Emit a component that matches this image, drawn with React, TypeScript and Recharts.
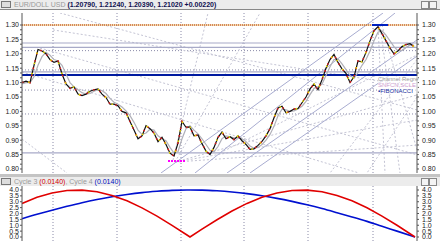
import React from 'react';
import { LineChart, Line, XAxis, YAxis, ReferenceLine } from 'recharts';

// time index (one unit per chart column)
const priceValues = [
  1.10, 1.105, 1.10, 1.16, 1.215, 1.21, 1.20, 1.18, 1.17, 1.175,
  1.13, 1.095, 1.08, 1.085, 1.06, 1.055, 1.06, 1.07, 1.075, 1.078,
  1.06, 1.048, 1.025, 1.025, 1.02, 1.0, 0.995, 0.965, 0.935, 0.905,
  0.915, 0.95, 0.94, 0.925, 0.895, 0.91, 0.885, 0.855, 0.845, 0.89,
  0.965, 0.945, 0.945, 0.915, 0.918, 0.888, 0.862, 0.85, 0.875, 0.91,
  0.928, 0.905, 0.912, 0.902, 0.915, 0.898, 0.885, 0.868, 0.87, 0.882,
  0.896, 0.915, 0.94, 0.978, 1.012, 1.018, 0.995, 1.0, 1.008, 1.01,
  1.03, 1.05, 1.078, 1.095, 1.075, 1.11, 1.15, 1.18, 1.198, 1.17,
  1.148, 1.132, 1.10, 1.12, 1.175, 1.172, 1.205, 1.245, 1.28, 1.294,
  1.27, 1.245, 1.22, 1.20, 1.21, 1.225, 1.232, 1.235, 1.225,
];
const maValues = [
  1.095, 1.10, 1.10, 1.12, 1.16, 1.19, 1.205, 1.195, 1.18, 1.175,
  1.16, 1.13, 1.10, 1.085, 1.075, 1.065, 1.06, 1.062, 1.07, 1.075,
  1.072, 1.062, 1.045, 1.032, 1.025, 1.015, 1.002, 0.985, 0.962, 0.935,
  0.92, 0.925, 0.938, 0.935, 0.915, 0.905, 0.898, 0.875, 0.855, 0.86,
  0.905, 0.94, 0.95, 0.935, 0.922, 0.905, 0.885, 0.865, 0.86, 0.878,
  0.905, 0.915, 0.912, 0.908, 0.908, 0.905, 0.895, 0.88, 0.872, 0.875,
  0.885, 0.90, 0.92, 0.948, 0.985, 1.008, 1.005, 1.0, 1.002, 1.008,
  1.018, 1.035, 1.058, 1.08, 1.085, 1.095, 1.125, 1.155, 1.18, 1.182,
  1.165, 1.145, 1.125, 1.115, 1.135, 1.16, 1.18, 1.21, 1.245, 1.275,
  1.28, 1.265, 1.245, 1.225, 1.21, 1.212, 1.222, 1.23, 1.23,
];
const PRICE_STEP = 4;

const cycleT = [0, 15, 30, 45, 60, 75, 90, 105, 120, 135, 150, 165, 168, 180, 195, 210, 225, 240, 255, 270, 285, 300, 315, 330, 345, 360, 375, 393];
const cycle3 = [2.86, 3.38, 3.75, 3.96, 3.99, 3.85, 3.54, 3.08, 2.48, 1.78, 0.99, 0.17, 0.0, 0.67, 1.47, 2.21, 2.86, 3.38, 3.75, 3.96, 3.99, 3.85, 3.54, 3.08, 2.49, 1.78, 1.0, 0.0];
const cycle4 = [1.55, 1.93, 2.28, 2.61, 2.92, 3.19, 3.42, 3.62, 3.78, 3.89, 3.97, 4.0, 4.0, 3.99, 3.93, 3.83, 3.69, 3.51, 3.29, 3.03, 2.74, 2.42, 2.07, 1.71, 1.33, 0.91, 0.5, 0.0];

const priceTicks = [0.8, 0.85, 0.9, 0.95, 1.0, 1.05, 1.1, 1.15, 1.2, 1.25, 1.3];
const cycleTicks = [0, 0.5, 1, 1.5, 2, 2.5, 3, 3.5, 4];
const timeGrid = [31, 95, 159, 222, 286, 351];

// horizontal levels
const dottedLevels = [1.211, 1.144, 1.074, 0.991];
const grayLevels = [1.2375, 1.222, 1.137, 0.856];
const blueLevel = 1.126;
const redLevel = 1.30;

// channel regression lines [t1, v1, t2, v2]
const channelLines = [
  [139, 0.786, 361, 1.3417],
  [173, 0.786, 373, 1.3417],
  [205, 0.786, 395, 1.248],
  [228, 0.786, 395, 1.192],
];
// fan / fibonacci dotted lines
const fanLines = [
  [38, 1.3417, 395, 1.005],
  [18, 1.22, 395, 0.849],
  [0, 1.137, 337, 0.786],
  [31, 1.283, 395, 1.085],
  [0, 0.904, 45, 0.786],
  [153, 0.824, 395, 0.97],
  [153, 0.824, 395, 0.883],
  [153, 0.824, 395, 1.057],
  [151, 0.831, 186, 1.3417],
  [153, 0.824, 238, 1.3417],
  [198, 0.856, 395, 1.196],
  [356, 1.30, 363, 0.786],
  [358, 1.30, 378, 0.786],
  [360, 1.30, 395, 0.866],
  [395, 1.18, 308, 0.786],
  [395, 1.05, 345, 0.786],
];
const peakMark = [350, 1.30, 366, 1.30];
const lowMark = [146, 0.828, 163, 0.828];

const priceRows = priceValues.map((p, i) => ({ t: i * PRICE_STEP, price: p, ma: maValues[i] }));
const cycleRows = cycleT.map((t, i) => ({ t, c3: cycle3[i], c4: cycle4[i] }));

const FONT = 'Liberation Sans, Arial, sans-serif';
const tickStyle = { fontSize: 7, fill: '#222', fontFamily: FONT };

const isMajor = (v: number, step: number) => Math.abs(v / step - Math.round(v / step)) < 1e-6;
const priceMinor: number[] = [];
for (let i = 0; i < priceTicks.length; i++) {
  priceMinor.push(priceTicks[i]);
  if (i < priceTicks.length - 1) {
    const d = (priceTicks[i + 1] - priceTicks[i]) / 3;
    priceMinor.push(priceTicks[i] + d, priceTicks[i] + 2 * d);
  }
}
const fmtPrice = (v: number) => (isMajor(v, 0.05) ? v.toFixed(2) : '');

const seg = (s: number[]) => [{ x: s[0], y: s[1] }, { x: s[2], y: s[3] }];

function Header({ top, children }: { top: number; children: React.ReactNode }) {
  return (
    <div style={{ position: 'absolute', left: 0, top, width: 440, height: 9, background: '#ececec', fontFamily: FONT, fontSize: 7, lineHeight: '9px', whiteSpace: 'nowrap' }}>
      <span style={{ display: 'inline-block', width: 8, height: 5, border: '1px solid #777', background: '#ddd', margin: '1px 3px 0 1px', verticalAlign: 'top' }} />
      {children}
      <span style={{ position: 'absolute', right: 11, top: 1, width: 6, height: 6, border: '1px solid #888', background: '#f4f4f4' }} />
      <span style={{ position: 'absolute', right: 3, top: 1, width: 6, height: 6, border: '1px solid #888', background: '#f4f4f4' }} />
    </div>
  );
}

export default function App() {
  const yDomain = [0.786, 1.3417];
  const cDomain = [-0.34, 4.34];
  return (
    <div style={{ position: 'absolute', left: 0, top: 0, width: 440, height: 244, background: '#fff', overflow: 'hidden' }}>
      <Header top={0}>
        <span style={{ color: '#9a9a9a' }}>EUR/DOLL USD </span>
        <span style={{ color: '#101050', fontWeight: 'bold' }}>(1.20790, 1.21240, 1.20390, 1.21020 +0.00220)</span>
      </Header>
      <div style={{ position: 'absolute', left: 0, top: 9, width: 440, height: 1, background: '#888' }} />
      <div style={{ position: 'absolute', left: 0, top: 0 }}>
        <LineChart width={440} height={174} data={priceRows} margin={{ top: 13, right: 0, bottom: 1, left: 0 }}>
          <XAxis dataKey="t" type="number" domain={[0, 395]} hide />
          <YAxis yAxisId="l" orientation="left" width={22} domain={yDomain} ticks={priceMinor} tickFormatter={fmtPrice} allowDataOverflow tick={tickStyle} tickSize={2} tickMargin={1} axisLine={{ stroke: '#555' }} tickLine={{ stroke: '#555' }} interval={0} />
          <YAxis yAxisId="r" orientation="right" width={23} domain={yDomain} ticks={priceMinor} tickFormatter={fmtPrice} allowDataOverflow tick={tickStyle} tickSize={2} tickMargin={3} axisLine={{ stroke: '#555' }} tickLine={{ stroke: '#555' }} interval={0} />
          {timeGrid.map((t) => (
            <ReferenceLine key={'g' + t} yAxisId="l" x={t} stroke="#8a8aa8" strokeDasharray="1 2" />
          ))}
          {dottedLevels.map((v) => (
            <ReferenceLine key={'d' + v} yAxisId="l" y={v} stroke="#8a8aa8" strokeDasharray="1 2" />
          ))}
          {fanLines.map((s, i) => (
            <ReferenceLine key={'f' + i} yAxisId="l" segment={seg(s)} stroke="#c4c4d4" strokeDasharray="2 2" ifOverflow="hidden" />
          ))}
          {grayLevels.map((v) => (
            <ReferenceLine key={'s' + v} yAxisId="l" y={v} stroke="#a8aac8" strokeWidth={1.2} />
          ))}
          {channelLines.map((s, i) => (
            <ReferenceLine key={'c' + i} yAxisId="l" segment={seg(s)} stroke="#a8acd0" strokeWidth={1} ifOverflow="hidden" />
          ))}
          <ReferenceLine yAxisId="l" y={redLevel} stroke="#e0c060" strokeWidth={1} />
          <ReferenceLine yAxisId="l" y={redLevel} stroke="#c02a10" strokeDasharray="1 1" strokeWidth={1} />
          <ReferenceLine yAxisId="l" y={blueLevel} stroke="#001aa0" strokeWidth={2} />
          <ReferenceLine yAxisId="l" segment={seg(peakMark)} stroke="#0020c0" strokeWidth={2} ifOverflow="hidden" />
          <ReferenceLine yAxisId="l" segment={seg(lowMark)} stroke="#ff00ff" strokeWidth={2} strokeDasharray="2 1" ifOverflow="hidden" />
          <Line yAxisId="l" dataKey="ma" stroke="#b0b0b8" strokeWidth={1.2} dot={false} isAnimationActive={false} />
          <Line yAxisId="l" dataKey="price" stroke="#111" strokeWidth={1.2} dot={false} isAnimationActive={false} />
          <Line yAxisId="l" dataKey="price" stroke="#e02020" strokeWidth={1.6} strokeDasharray="1.5 6" dot={false} isAnimationActive={false} />
          <Line yAxisId="l" dataKey="price" stroke="#e8d800" strokeWidth={1.6} strokeDasharray="1.5 9" strokeDashoffset={4} dot={false} isAnimationActive={false} />
        </LineChart>
      </div>
      <div style={{ position: 'absolute', left: 378, top: 76, fontFamily: FONT, fontSize: 6, lineHeight: '6px', color: '#9a9a9a', whiteSpace: 'nowrap', background: 'rgba(255,255,255,0.6)' }}>
        <div>Channel Regre</div>
        <div style={{ color: '#d0a0d0' }}>SNFCN.SCLE</div>
        <div style={{ color: '#2030a0' }}>▪FIBONACCI</div>
      </div>
      <div style={{ position: 'absolute', left: 0, top: 174, width: 440, height: 3, background: '#c4c4c4' }} />
      <Header top={177}>
        <span style={{ color: '#9a9a9a' }}>Cycle 3 </span>
        <span style={{ color: '#d00000' }}>(0.0140)</span>
        <span style={{ color: '#9a9a9a' }}>, Cycle 4 </span>
        <span style={{ color: '#0010c0' }}>(0.0140)</span>
      </Header>
      <div style={{ position: 'absolute', left: 0, top: 176 }}>
        <LineChart width={440} height={68} data={cycleRows} margin={{ top: 10, right: 0, bottom: 3, left: 0 }}>
          <XAxis dataKey="t" type="number" domain={[0, 395]} hide />
          <YAxis yAxisId="l" orientation="left" width={22} domain={cDomain} ticks={cycleTicks} tickFormatter={(v: number) => v.toFixed(1)} allowDataOverflow tick={tickStyle} tickSize={2} tickMargin={1} axisLine={{ stroke: '#555' }} tickLine={{ stroke: '#555' }} interval={0} />
          <YAxis yAxisId="r" orientation="right" width={23} domain={cDomain} ticks={cycleTicks} tickFormatter={(v: number) => v.toFixed(1)} allowDataOverflow tick={tickStyle} tickSize={2} tickMargin={3} axisLine={{ stroke: '#555' }} tickLine={{ stroke: '#555' }} interval={0} />
          {timeGrid.map((t) => (
            <ReferenceLine key={'cg' + t} yAxisId="l" x={t} stroke="#8a8aa8" strokeDasharray="1 2" />
          ))}
          <Line yAxisId="l" dataKey="c4" type="monotone" stroke="#0010d0" strokeWidth={1.6} dot={false} isAnimationActive={false} />
          <Line yAxisId="l" dataKey="c3" type="linear" stroke="#e00000" strokeWidth={1.6} dot={false} isAnimationActive={false} />
        </LineChart>
      </div>
    </div>
  );
}
